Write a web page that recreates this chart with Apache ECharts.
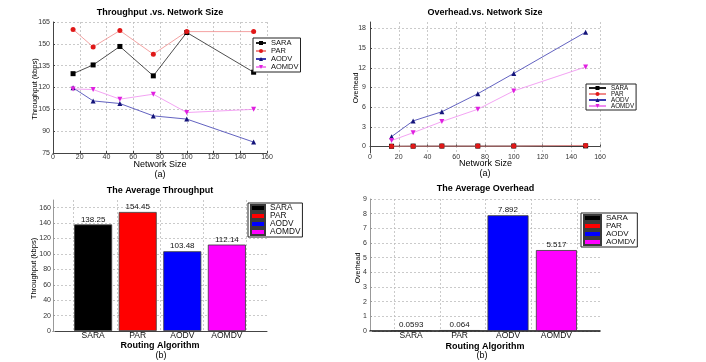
<!DOCTYPE html>
<html><head><meta charset="utf-8">
<script src="https://cdn.jsdelivr.net/npm/echarts@6/dist/echarts.min.js"></script>
<style>html,body{margin:0;padding:0;background:#fff}#c{width:706px;height:362px}</style>
</head><body><div id="c"></div>
<script>
// ---------- data ----------
const networkSizes = [15, 30, 50, 75, 100, 150];
const algorithms = ['SARA', 'PAR', 'AODV', 'AOMDV'];

const throughputSARA  = [129.5, 135.5, 148.2, 128.0, 157.8, 130.5];
const throughputPAR   = [159.9, 147.9, 159.1, 142.9, 158.4, 158.4];
const throughputAODV  = [119.8, 110.8, 109.0, 100.5, 98.3, 82.5];
const throughputAOMDV = [119.0, 118.6, 112.0, 115.4, 102.8, 105.0];

const overheadSARA  = [0.03, 0.05, 0.06, 0.06, 0.07, 0.0858];
const overheadPAR   = [0.03, 0.04, 0.05, 0.05, 0.05, 0.164];
const overheadAODV  = [1.5, 3.9, 5.3, 8.05, 11.15, 17.45];
const overheadAOMDV = [0.9, 2.1, 3.8, 5.68, 8.48, 12.14];

const avgThroughput = [138.25, 154.45, 103.48, 112.14];
const avgOverhead   = [0.0593, 0.064, 7.892, 5.517];

const networkSizeTicks   = [0, 20, 40, 60, 80, 100, 120, 140, 160];
const throughputTicks    = [75, 90, 105, 120, 135, 150, 165];
const overheadTicks      = [0, 3, 6, 9, 12, 15, 18];
const avgThroughputTicks = [0, 20, 40, 60, 80, 100, 120, 140, 160];
const avgOverheadTicks   = [0, 1, 2, 3, 4, 5, 6, 7, 8, 9];
const barPositions       = [1, 2, 3, 4];

// ---------- styles ----------
const FONT = 'Liberation Sans, Arial, Helvetica, sans-serif';
const markerColors = { SARA: '#000000', PAR: '#e01818', AODV: '#14147a', AOMDV: '#e020e0' };
const lineColors   = { SARA: '#222222', PAR: '#f08a8a', AODV: '#3a3ab0', AOMDV: '#f08cf0' };
const barColors    = { SARA: '#000000', PAR: '#ff0000', AODV: '#0000ff', AOMDV: '#ff00ff' };
const symbols      = { SARA: 'rect', PAR: 'circle', AODV: 'triangle', AOMDV: 'triangle' };
const rotations    = { SARA: 0, PAR: 0, AODV: 0, AOMDV: 180 };
const throughputByAlg = { SARA: throughputSARA, PAR: throughputPAR, AODV: throughputAODV, AOMDV: throughputAOMDV };
const overheadByAlg   = { SARA: overheadSARA, PAR: overheadPAR, AODV: overheadAODV, AOMDV: overheadAOMDV };

const gridLine = { show: true, lineStyle: { color: '#bdbdbd', type: [2, 2], width: 0.8 } };
const axisLine = { show: true, lineStyle: { color: '#444', width: 1 } };
const tickLbl = (extra) => Object.assign({ fontSize: 7, color: '#333', fontFamily: FONT }, extra || {});

function lineSeries(alg, suffix, dataArr, axisIdx) {
  return {
    name: alg + suffix, type: 'line', xAxisIndex: axisIdx, yAxisIndex: axisIdx,
    data: networkSizes.map((x, i) => [x, dataArr[i]]),
    symbol: symbols[alg], symbolSize: 5, symbolRotate: rotations[alg],
    itemStyle: { color: markerColors[alg] },
    lineStyle: { color: lineColors[alg], width: 0.8 },
    z: alg === 'PAR' ? 3 : 2
  };
}
function barSeries(alg, suffix, vals, xIdx, yIdx, width) {
  const i = algorithms.indexOf(alg);
  return {
    name: alg + suffix, type: 'bar', xAxisIndex: xIdx, yAxisIndex: yIdx,
    data: [[barPositions[i], vals[i]]],
    barWidth: width, barGap: '-100%',
    itemStyle: { color: barColors[alg], borderColor: '#3a3a3a', borderWidth: 0.8 },
    label: { show: true, position: 'top', distance: 1, fontSize: 8, color: '#111', fontFamily: FONT,
             formatter: p => String(p.value[1]) }
  };
}
function legend(suffix, left, top, opts) {
  return Object.assign({
    data: algorithms.map(a => ({ name: a + suffix })),
    formatter: n => n.split('#')[0],
    orient: 'vertical', left: left, top: top, itemGap: 0,
    backgroundColor: '#fff', borderColor: '#222', borderWidth: 1, borderRadius: 0,
    padding: [1, 2, 1, 2], selectedMode: false
  }, opts);
}
function txt(text, x, y, font, rot) {
  return { type: 'text', x: x, y: y, rotation: rot || 0, silent: true,
    style: { text: text, font: font, fill: '#000', align: 'center', verticalAlign: 'middle',
             textAlign: 'center', textVerticalAlign: 'middle' } };
}

const series = [];
algorithms.forEach(a => series.push(lineSeries(a, '#t', throughputByAlg[a], 0)));
algorithms.forEach(a => series.push(lineSeries(a, '#o', overheadByAlg[a], 1)));
algorithms.forEach(a => series.push(barSeries(a, '#tb', avgThroughput, 2, 2, 38)));
algorithms.forEach(a => series.push(barSeries(a, '#ob', avgOverhead, 3, 3, 41)));

const catLabel = { customValues: barPositions, formatter: v => algorithms[Math.round(v) - 1],
                   fontSize: 8.5, lineHeight: 8, color: '#111', margin: 1, fontFamily: FONT };

const option = {
  animation: false,
  backgroundColor: '#fff',
  textStyle: { fontFamily: FONT },
  grid: [
    { left: 53, top: 22, width: 214, height: 131 },
    { left: 370, top: 22, width: 230, height: 131 },
    { left: 53, top: 200, width: 214, height: 131 },
    { left: 370, top: 199, width: 230, height: 132 }
  ],
  xAxis: [
    { gridIndex: 0, type: 'value', min: networkSizeTicks[0], max: networkSizeTicks[networkSizeTicks.length - 1], interval: 20,
      axisLine: axisLine, axisTick: { show: true, inside: true, length: 2 }, splitLine: gridLine,
      axisLabel: tickLbl({ margin: 1 }) },
    { gridIndex: 1, type: 'value', min: networkSizeTicks[0], max: networkSizeTicks[networkSizeTicks.length - 1], interval: 20,
      axisLine: axisLine, axisTick: { show: true, inside: true, length: 2 }, splitLine: gridLine,
      axisLabel: tickLbl({ margin: 1 }) },
    { gridIndex: 2, type: 'value', min: 0.1, max: 4.9,
      axisLine: axisLine, axisTick: { show: false, customValues: barPositions }, splitLine: { show: false },
      axisLabel: catLabel },
    { gridIndex: 3, type: 'value', min: 0.15, max: 4.9,
      axisLine: { show: true, lineStyle: { color: '#111', width: 1.5 } }, axisTick: { show: false, customValues: barPositions }, splitLine: { show: false },
      axisLabel: catLabel },
    // helper axes for the vertical dotted grid lines of the bar panels
    { gridIndex: 2, type: 'value', min: 0.1, max: 4.9, position: 'top',
      axisLine: { show: false }, axisLabel: { show: false },
      axisTick: { show: false, customValues: [0.55, 1.55, 2.5, 3.47, 4.44] }, splitLine: gridLine },
    { gridIndex: 3, type: 'value', min: 0.15, max: 4.9, position: 'top',
      axisLine: { show: false }, axisLabel: { show: false },
      axisTick: { show: false, customValues: [0.65, 1.61, 2.54, 3.49, 4.42] }, splitLine: gridLine }
  ],
  yAxis: [
    { gridIndex: 0, type: 'value', min: throughputTicks[0], max: throughputTicks[throughputTicks.length - 1], interval: 15,
      axisLine: axisLine, axisTick: { show: true, inside: true, length: 2 }, splitLine: gridLine,
      axisLabel: tickLbl({ margin: 3 }) },
    { gridIndex: 1, type: 'value', min: -1, max: 19,
      axisLine: axisLine, axisTick: { show: true, inside: true, length: 2, customValues: overheadTicks }, splitLine: gridLine,
      axisLabel: tickLbl({ margin: 4, customValues: overheadTicks }) },
    { gridIndex: 2, type: 'value', min: 0, max: 170,
      axisLine: { show: true, lineStyle: { color: '#999', width: 1 } }, axisTick: { show: true, inside: true, length: 2, customValues: avgThroughputTicks }, splitLine: gridLine,
      axisLabel: tickLbl({ margin: 2, customValues: avgThroughputTicks }) },
    { gridIndex: 3, type: 'value', min: avgOverheadTicks[0], max: avgOverheadTicks[avgOverheadTicks.length - 1], interval: 1,
      axisLine: { show: true, lineStyle: { color: '#999', width: 1 } }, axisTick: { show: true, inside: true, length: 2 }, splitLine: gridLine,
      axisLabel: tickLbl({ margin: 3 }) }
  ],
  legend: [
    legend('#t', 253, 38, { itemWidth: 10, itemHeight: 5, textStyle: { fontSize: 7.5, lineHeight: 6, color: '#111', fontFamily: FONT } }),
    legend('#o', 586, 84, { itemWidth: 17, itemHeight: 5, textStyle: { fontSize: 6.3, lineHeight: 6, color: '#111', fontFamily: FONT } }),
    legend('#tb', 248, 203, { itemWidth: 14, itemHeight: 6, icon: 'rect', textStyle: { fontSize: 8.3, lineHeight: 6.5, color: '#111', fontFamily: FONT } }),
    legend('#ob', 581, 213, { itemWidth: 17, itemHeight: 6, icon: 'rect', textStyle: { fontSize: 8, lineHeight: 6.5, color: '#111', fontFamily: FONT } })
  ],
  graphic: [
    txt('Throughput .vs. Network Size', 160, 13, 'bold 9px ' + FONT),
    txt('Network Size', 160, 165, '9px ' + FONT),
    txt('(a)', 160, 174.5, '9px ' + FONT),
    txt('Throughput (kbps)', 35, 89, '7.5px ' + FONT, Math.PI / 2),

    txt('Overhead.vs. Network Size', 485, 13, 'bold 9px ' + FONT),
    txt('Network Size', 485.5, 164, '9px ' + FONT),
    txt('(a)', 485, 174, '9px ' + FONT),
    txt('Overhead', 356, 88, '7px ' + FONT, Math.PI / 2),

    txt('The Average Throughput', 160, 191, 'bold 9px ' + FONT),
    txt('Routing Algorithm', 160, 346, 'bold 9px ' + FONT),
    txt('(b)', 161, 356, '9px ' + FONT),
    txt('Throughput (kbps)', 34, 268.5, '7.5px ' + FONT, Math.PI / 2),

    txt('The Average Overhead', 485.5, 188.5, 'bold 9px ' + FONT),
    txt('Routing Algorithm', 485, 346.5, 'bold 9px ' + FONT),
    txt('(b)', 482, 356, '9px ' + FONT),
    txt('Overhead', 358, 268, '7px ' + FONT, Math.PI / 2)
  ],
  series: series
};

const chart = echarts.init(document.getElementById('c'), null, { renderer: 'canvas' });
chart.setOption(option);
</script>
</body></html>
